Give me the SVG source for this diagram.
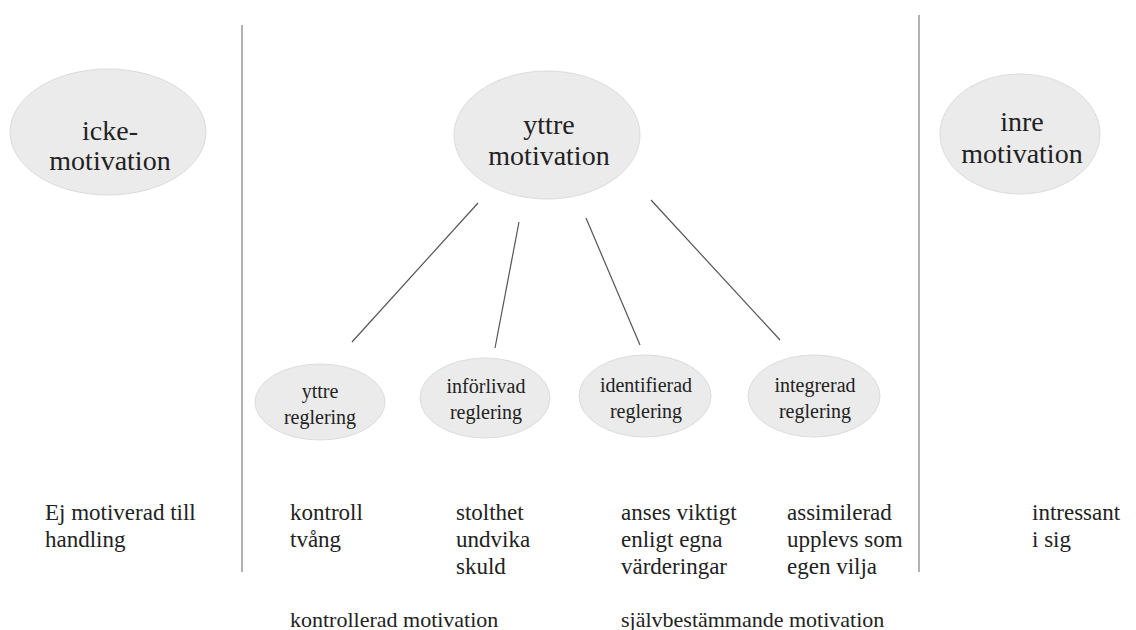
<svg xmlns="http://www.w3.org/2000/svg" width="1136" height="630" viewBox="0 0 1136 630">
<style>
.node ellipse{fill:#ebebeb;stroke:#dcdcdc;stroke-width:1}
text{font-family:"Liberation Serif","Times New Roman",serif;fill:#222}
.big{font-size:28px;text-anchor:middle}
.small{font-size:20px;text-anchor:middle}
.body{font-size:23px}
.foot{font-size:22px}
.sep{stroke:#888;stroke-width:1.3}
.conn line{stroke:#555;stroke-width:1.2}
</style>
<rect width="1136" height="630" fill="#fff"/>
<line class="sep" x1="242" y1="25" x2="242" y2="572"/>
<line class="sep" x1="919" y1="15" x2="919" y2="572"/>
<g id="connectors" class="conn">
<line x1="478" y1="203" x2="352" y2="342"/>
<line x1="519" y1="222" x2="495" y2="348"/>
<line x1="586" y1="218" x2="640" y2="345"/>
<line x1="651" y1="200" x2="780" y2="340"/>
</g>
<g id="icke-motivation" class="node">
<ellipse cx="108" cy="132" rx="98" ry="63"/>
<text class="big" x="110" y="140">icke-</text>
<text class="big" x="110" y="170">motivation</text>
</g>
<g id="yttre-motivation" class="node">
<ellipse cx="547" cy="135" rx="93" ry="64"/>
<text class="big" x="549" y="134">yttre</text>
<text class="big" x="549" y="165">motivation</text>
</g>
<g id="inre-motivation" class="node">
<ellipse cx="1020" cy="134" rx="80" ry="60"/>
<text class="big" x="1022" y="131">inre</text>
<text class="big" x="1022" y="163">motivation</text>
</g>
<g id="yttre-reglering" class="node">
<ellipse cx="320" cy="402" rx="65" ry="38"/>
<text class="small" x="320" y="398">yttre</text>
<text class="small" x="320" y="424">reglering</text>
</g>
<g id="inforlivad-reglering" class="node">
<ellipse cx="485" cy="398" rx="65" ry="40"/>
<text class="small" x="486" y="393">införlivad</text>
<text class="small" x="486" y="419">reglering</text>
</g>
<g id="identifierad-reglering" class="node">
<ellipse cx="645" cy="396" rx="66" ry="41"/>
<text class="small" x="646" y="392">identifierad</text>
<text class="small" x="646" y="418">reglering</text>
</g>
<g id="integrerad-reglering" class="node">
<ellipse cx="814" cy="396" rx="66" ry="41"/>
<text class="small" x="815" y="392">integrerad</text>
<text class="small" x="815" y="418">reglering</text>
</g>
<g id="labels" class="body">
<text x="45" y="520">Ej motiverad till</text>
<text x="45" y="547">handling</text>
<text x="290" y="520">kontroll</text>
<text x="290" y="547">tvång</text>
<text x="456" y="520">stolthet</text>
<text x="456" y="547">undvika</text>
<text x="456" y="574">skuld</text>
<text x="621" y="520">anses viktigt</text>
<text x="621" y="547">enligt egna</text>
<text x="621" y="574">värderingar</text>
<text x="787" y="520">assimilerad</text>
<text x="787" y="547">upplevs som</text>
<text x="787" y="574">egen vilja</text>
<text x="1032" y="520">intressant</text>
<text x="1032" y="547">i sig</text>
<text class="foot" x="290" y="627">kontrollerad motivation</text>
<text class="foot" x="621" y="627">självbestämmande motivation</text>
</g>
</svg>
